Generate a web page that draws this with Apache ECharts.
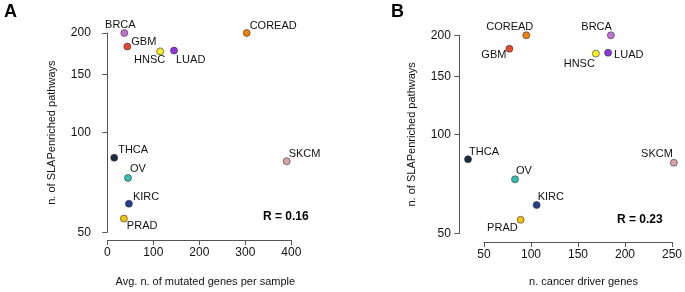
<!DOCTYPE html>
<html>
<head>
<meta charset="utf-8">
<script src="https://cdn.jsdelivr.net/npm/echarts@6/dist/echarts.min.js"></script>
<style>
html, body { margin: 0; padding: 0; background: #fff; }
#main { width: 685px; height: 292px; }
</style>
</head>
<body>
<div id="main"></div>
<script>
// data
var cancers = ['BRCA', 'GBM', 'HNSC', 'LUAD', 'COREAD', 'THCA', 'OV', 'KIRC', 'PRAD', 'SKCM'];
var pathways = [200, 182, 176, 177, 200, 84, 73, 61, 55, 82];        // n. of SLAPenriched pathways
var mutatedGenes = [37, 43.5, 115, 145, 303, 15, 45, 47, 36, 390];   // panel A x
var driverGenes = [185, 77, 169, 182, 95, 33, 83, 106, 89, 252];     // panel B x
var yTicks = [50, 100, 150, 200];
var xTicksA = [0, 100, 200, 300, 400];
var xTicksB = [50, 100, 150, 200, 250];
var rTexts = ['R = 0.16', 'R = 0.23'];

// styles
var dotColors = ['#c46fd6', '#e8472f', '#f2f022', '#8e33e0', '#f07f0a', '#1b2b42', '#31bfb0', '#283c8c', '#f0c20a', '#d9a1a8'];
// label offsets [dx, dy, align, verticalAlign]
var labA = [
	[-4, -3, 'center', 'bottom'],
	[4, -5, 'left', 'middle'],
	[5, 3, 'right', 'top'],
	[2, 4, 'left', 'top'],
	[3, -2, 'left', 'bottom'],
	[4, -2, 'left', 'bottom'],
	[2, -3, 'left', 'bottom'],
	[4, -1, 'left', 'bottom'],
	[3, 2, 'left', 'top'],
	[2, -2, 'left', 'bottom']
];
var labB = [
	[1, -3, 'right', 'bottom'],
	[-3, 6, 'right', 'middle'],
	[-1, 5, 'right', 'top'],
	[6, 2, 'left', 'middle'],
	[7, -3, 'right', 'bottom'],
	[1, -2, 'left', 'bottom'],
	[1, -3, 'left', 'bottom'],
	[1, -3, 'left', 'bottom'],
	[-3, 3, 'right', 'top'],
	[-1, -3, 'right', 'bottom']
];

var font = 'Liberation Sans, Arial, sans-serif';
var axisColor = '#555';

function makeSeries(xs, lab, idx) {
	var pts = [];
	for (var i = 0; i < cancers.length; i++) {
		pts.push({
			name: cancers[i],
			value: [xs[i], pathways[i]],
			itemStyle: { color: dotColors[i] },
			label: {
				show: true,
				position: 'inside',
				formatter: '{b}',
				offset: [lab[i][0], lab[i][1]],
				align: lab[i][2],
				verticalAlign: lab[i][3],
				color: '#111',
				fontSize: 11,
				fontFamily: font,
				textBorderWidth: 0
			}
		});
	}
	return {
		type: 'scatter',
		xAxisIndex: idx,
		yAxisIndex: idx,
		clip: false,
		symbolSize: 7,
		itemStyle: { borderColor: '#333', borderWidth: 0.6, opacity: 1 },
		data: pts
	};
}

function makeX(idx, mn, mx, ticks, name, offset, gap, shift) {
	return {
		gridIndex: idx,
		type: 'value',
		min: mn,
		max: mx,
		offset: offset,
		splitLine: { show: false },
		axisLine: { show: true, lineStyle: { color: axisColor, width: 1 } },
		axisTick: { show: true, length: 5, customValues: ticks, lineStyle: { color: axisColor } },
		axisLabel: { customValues: ticks, color: '#111', fontSize: 12, fontFamily: font, margin: 7 },
		name: name,
		nameLocation: 'middle',
		nameGap: gap,
		nameTextStyle: { color: '#111', fontSize: 11, fontFamily: font, padding: [0, 0, 0, shift] }
	};
}

function makeY(idx, offset) {
	return {
		gridIndex: idx,
		type: 'log',
		logBase: 10,
		min: 50,
		max: 200,
		offset: offset,
		splitLine: { show: false },
		axisLine: { show: true, lineStyle: { color: axisColor, width: 1 } },
		axisTick: { show: true, length: 5, customValues: yTicks, lineStyle: { color: axisColor } },
		minorTick: { show: false },
		axisLabel: { customValues: yTicks, color: '#111', fontSize: 12, fontFamily: font, margin: 8.5 },
		name: 'n. of SLAPenriched pathways',
		nameLocation: 'middle',
		nameGap: 42,
		nameTextStyle: { color: '#111', fontSize: 11, fontFamily: font }
	};
}

var chart = echarts.init(document.getElementById('main'), null, { renderer: 'canvas' });

var option = {
	backgroundColor: '#fff',
	animation: false,
	grid: [
		{ left: 107.3, top: 33, width: 184, height: 200.3 },
		{ left: 484, top: 35.3, width: 189.3, height: 200.4 }
	],
	xAxis: [
		makeX(0, 0, 400, xTicksA, 'Avg. n. of mutated genes per sample', 7.7, 36, 12),
		makeX(1, 50, 250, xTicksB, 'n. cancer driver genes', 8.6, 34, 11)
	],
	yAxis: [
		makeY(0, 8),
		makeY(1, 24.7)
	],
	series: [
		makeSeries(mutatedGenes, labA, 0),
		makeSeries(driverGenes, labB, 1)
	],
	graphic: [
		{ type: 'text', left: 4, top: 3, style: { text: 'A', font: 'bold 18px ' + font, fill: '#000' } },
		{ type: 'text', left: 391, top: 3, style: { text: 'B', font: 'bold 18px ' + font, fill: '#000' } },
		{ type: 'text', left: 263, top: 211, style: { text: rTexts[0], font: 'bold 12px ' + font, fill: '#000' } },
		{ type: 'text', left: 617, top: 214, style: { text: rTexts[1], font: 'bold 12px ' + font, fill: '#000' } }
	]
};

chart.setOption(option);
</script>
</body>
</html>
